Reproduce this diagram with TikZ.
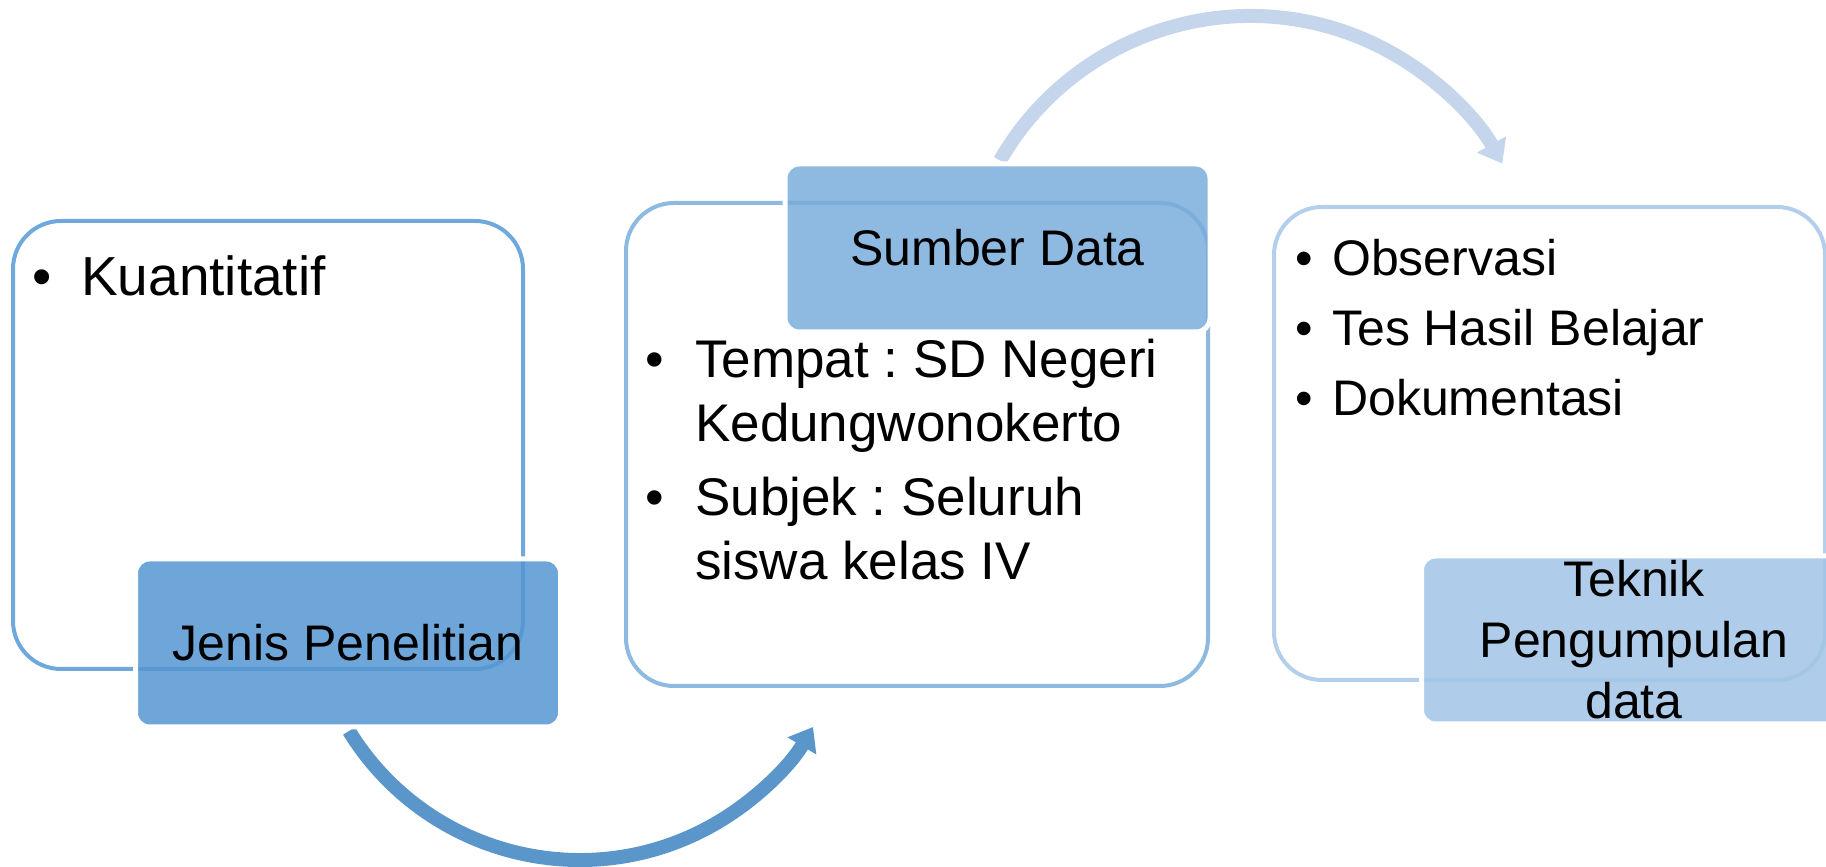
\documentclass[tikz,border=0pt]{standalone}
\usepackage{fontspec}
\setmainfont{Liberation Sans}
\frenchspacing
\usepackage{xcolor}
\usepackage{tikz}
\usetikzlibrary{arrows.meta}
\definecolor{lineA}{HTML}{6FA8DC}
\definecolor{lineB}{HTML}{8EBAE2}
\definecolor{lineC}{HTML}{B4CFEB}
\definecolor{fillA}{HTML}{5696D2}
\definecolor{fillB}{HTML}{7AADDC}
\definecolor{fillC}{HTML}{A1C4E6}
\definecolor{arrowA}{HTML}{5B96CB}
\definecolor{arrowB}{HTML}{C5D6EC}
\tikzset{
  frame/.style={line width=4pt, rounded corners=48pt},
  headbox/.style={draw=white, line width=5pt, fill opacity=0.85, text opacity=1,
    rounded corners=14pt, minimum width=425pt, minimum height=168pt, inner sep=0pt,
    align=center, font=\fontsize{50}{61}\selectfont},
  curvearrow/.style={line width=14pt, -{Triangle[width=32pt,length=22pt]}},
  txtA/.style={font=\fontsize{55}{66}\selectfont, inner sep=0pt},
  txtB/.style={font=\fontsize{53}{64}\selectfont, inner sep=0pt},
  txtC/.style={font=\fontsize{50}{60}\selectfont, inner sep=0pt},
}
\begin{document}
\begin{tikzpicture}[x=1pt, y=1pt]
  \useasboundingbox (0,0) rectangle (1826,867);
  \clip (0,0) rectangle (1826,867);
  % outer frames
  \draw[frame, draw=lineA] (13,198) rectangle (523,646);
  \draw[frame, draw=lineB] (626,181) rectangle (1208,664);
  \draw[frame, draw=lineC] (1274,187) rectangle (1825,660);
  % curved arrows between the steps
  \coordinate (jenisout) at (349,136);
  \coordinate (sumberout) at (1000,706.5);
  \draw[curvearrow, draw=arrowA] (jenisout) arc[start angle=211.6, end angle=329.4, radius=271];
  \draw[curvearrow, draw=arrowB] (sumberout) arc[start angle=150, end angle=29.3, radius=289];
  % headings
  \node[headbox, fill=fillA] (jenis) at (348,224) {Jenis Penelitian};
  \node[headbox, fill=fillB] (sumber) at (997.5,619) {Sumber Data};
  \node[headbox, fill=fillC] (teknik) at (1634,227) {Teknik\\Pengumpulan\\data};
  % first frame
  \node[txtA, anchor=base] (bulK) at (42,571) {•};
  \node[txtA, anchor=base west] (kuan) at (81,571) {Kuantitatif};
  % second frame
  \node[txtB, anchor=base] (bulT) at (655,489) {•};
  \node[txtB, anchor=base west] (tempat) at (695,489) {Tempat : SD Negeri};
  \node[txtB, anchor=base west] (kedung) at (695,425) {Kedungwonokerto};
  \node[txtB, anchor=base] (bulS) at (655,351) {•};
  \node[txtB, anchor=base west] (subjek) at (695,351) {Subjek : Seluruh};
  \node[txtB, anchor=base west] (siswa) at (695,287) {siswa kelas IV};
  % third frame
  \foreach \item [count=\i from 0] in {Observasi, Tes Hasil Belajar, Dokumentasi} {
    \node[txtC, anchor=base] (bulC\i) at (1304,591.5-70*\i) {•};
    \node[txtC, anchor=base west] (tek\i) at (1332,591.5-70*\i) {\item};
  }
\end{tikzpicture}
\end{document}
